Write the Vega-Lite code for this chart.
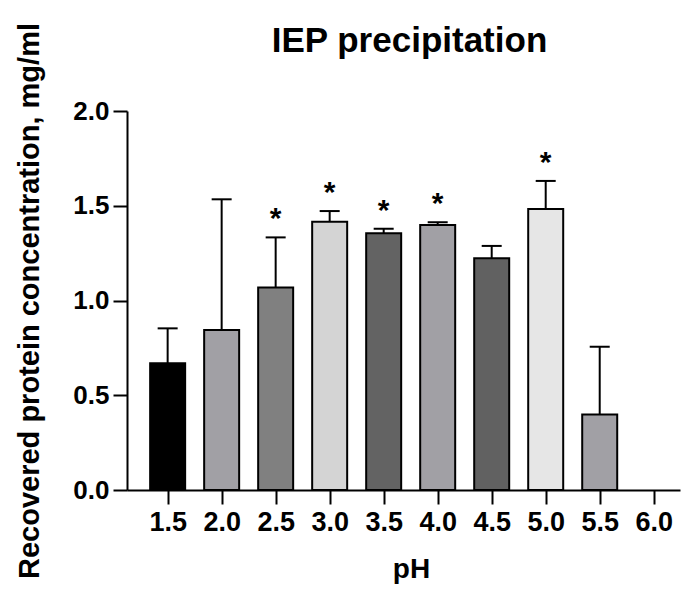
{
  "$schema": "https://vega.github.io/schema/vega-lite/v6.json",
  "width": 553,
  "height": 379,
  "autosize": "none",
  "padding": {"left": 127, "top": 111, "right": 4, "bottom": 101},
  "background": "white",
  "config": {
    "view": {"stroke": null},
    "font": "Liberation Sans",
    "axis": {
      "domainColor": "black",
      "domainWidth": 2,
      "tickColor": "black",
      "tickWidth": 2,
      "tickSize": 14,
      "grid": false,
      "labelFont": "Liberation Sans",
      "labelFontWeight": "bold",
      "labelFontSize": 26,
      "labelColor": "black",
      "titleFont": "Liberation Sans",
      "titleFontWeight": "bold",
      "titleColor": "black"
    }
  },
  "title": {
    "text": "IEP precipitation",
    "font": "Liberation Sans",
    "fontSize": 35,
    "fontWeight": "bold",
    "color": "black",
    "anchor": "middle",
    "frame": "group",
    "baseline": "alphabetic",
    "offset": -64,
    "dx": 6
  },
  "data": {
    "values": [
      {"pH": 1.5, "mean": 0.669, "err": 0.853, "star": "", "color": "#000000"},
      {"pH": 2.0, "mean": 0.844, "err": 1.534, "star": "", "color": "#a1a0a5"},
      {"pH": 2.5, "mean": 1.068, "err": 1.333, "star": "*", "color": "#808080"},
      {"pH": 3.0, "mean": 1.416, "err": 1.472, "star": "*", "color": "#d4d4d4"},
      {"pH": 3.5, "mean": 1.355, "err": 1.379, "star": "*", "color": "#636363"},
      {"pH": 4.0, "mean": 1.398, "err": 1.413, "star": "*", "color": "#a1a0a5"},
      {"pH": 4.5, "mean": 1.223, "err": 1.288, "star": "", "color": "#616161"},
      {"pH": 5.0, "mean": 1.483, "err": 1.631, "star": "*", "color": "#e6e6e6"},
      {"pH": 5.5, "mean": 0.399, "err": 0.756, "star": "", "color": "#a1a0a5"},
      {"pH": 6.0, "mean": 0, "err": 0, "star": "", "color": "#ffffff"}
    ]
  },
  "encoding": {
    "x": {
      "field": "pH",
      "type": "quantitative",
      "scale": {"domain": [1.17, 6.197], "nice": false, "zero": false},
      "axis": {
        "values": [1.5, 2.0, 2.5, 3.0, 3.5, 4.0, 4.5, 5.0, 5.5, 6.0],
        "format": ".1f",
        "labelPadding": 5,
        "labelFontSize": 27,
        "title": "pH",
        "titleFontSize": 28,
        "titlePadding": 20,
        "titleX": 284
      }
    },
    "y": {
      "field": "mean",
      "type": "quantitative",
      "scale": {"domain": [0, 2], "nice": false},
      "axis": {
        "values": [0, 0.5, 1.0, 1.5, 2.0],
        "format": ".1f",
        "labelPadding": 4,
        "title": "Recovered protein concentration, mg/ml",
        "titleFontSize": 29,
        "titlePadding": 28
      }
    }
  },
  "layer": [
    {
      "transform": [{"filter": "datum.err > 0"}],
      "mark": {"type": "rule", "color": "black", "strokeWidth": 2},
      "encoding": {"y2": {"field": "err"}}
    },
    {
      "transform": [{"filter": "datum.mean > 0"}],
      "mark": {"type": "bar", "size": 35, "stroke": "black", "strokeWidth": 2},
      "encoding": {
        "color": {"field": "color", "type": "nominal", "scale": null}
      }
    },
    {
      "transform": [{"filter": "datum.err > 0"}],
      "mark": {"type": "tick", "orient": "horizontal", "size": 20, "thickness": 2, "color": "black", "opacity": 1},
      "encoding": {"y": {"field": "err", "type": "quantitative"}}
    },
    {
      "transform": [{"filter": "datum.star != ''"}],
      "mark": {"type": "text", "fontSize": 30, "fontWeight": "bold", "font": "Liberation Sans", "color": "black", "baseline": "alphabetic", "dy": -9},
      "encoding": {
        "y": {"field": "err", "type": "quantitative"},
        "text": {"field": "star"}
      }
    }
  ]
}
